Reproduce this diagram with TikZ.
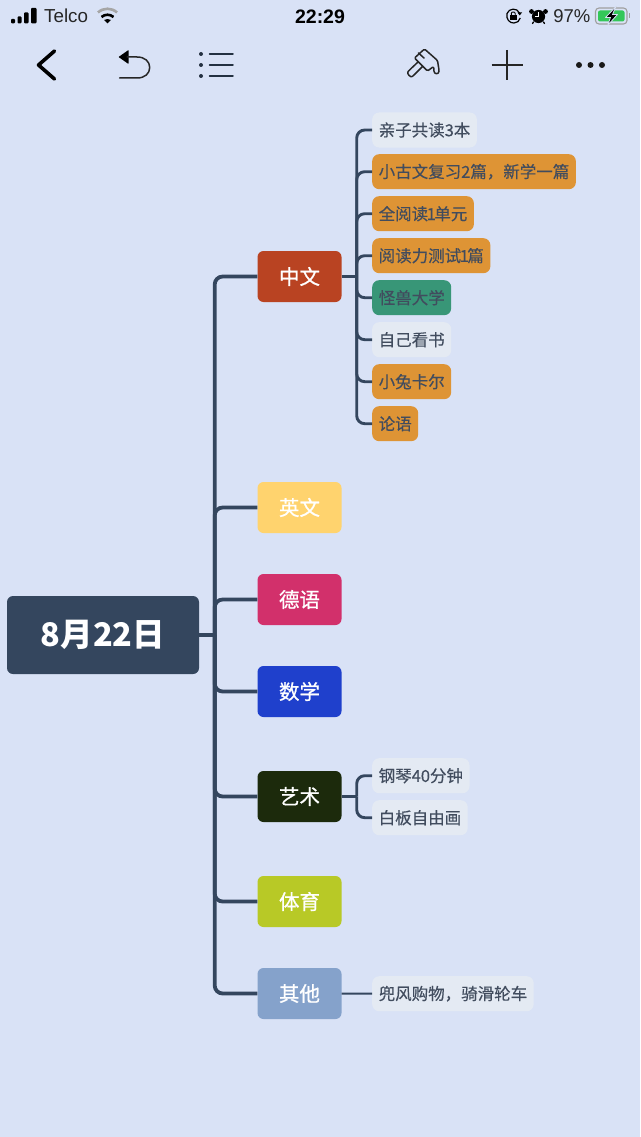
\documentclass[tikz,border=0pt]{standalone}
\usepackage{fontspec}
\setmainfont{Liberation Sans}
\newfontfamily\cjk{Noto Sans CJK SC}
\newfontfamily\cjkleaf[FakeBold=0.3]{Noto Sans CJK SC}
\newfontfamily\cjksubject[FakeBold=0.8]{Noto Sans CJK SC}
\newcommand{\slimone}{\kern-1.5pt 1\kern-1.5pt }
\definecolor{pagebg}{HTML}{D9E2F6}
\definecolor{linkcol}{HTML}{34465E}
\definecolor{leafink}{HTML}{414C5E}
\definecolor{leafplain}{HTML}{E4EAF3}
\definecolor{leaforange}{HTML}{DE9435}
\definecolor{leafgreen}{HTML}{389677}
\definecolor{batterygreen}{HTML}{34C759}
\definecolor{chinesecol}{HTML}{B94322}
\definecolor{englishcol}{HTML}{FFD36E}
\definecolor{germancol}{HTML}{D2306B}
\definecolor{mathscol}{HTML}{1F40CC}
\definecolor{artscol}{HTML}{1C2A0C}
\definecolor{sportscol}{HTML}{B8C926}
\definecolor{otherscol}{HTML}{85A2CB}
\tikzset{%
  root topic/.style={
    rectangle,
    rounded corners=6,
    fill=linkcol,
    text=white,
    minimum width=192,
    minimum height=78,
    font=\cjk\fontsize{32.5}{32.5}\selectfont\bfseries
  },
  subject/.style={
    rectangle,
    rounded corners=6,
    text=white,
    minimum width=84,
    minimum height=51,
    font=\cjksubject\fontsize{20.5}{20.5}\selectfont
  },
  leaf/.style={
    rectangle,
    rounded corners=7,
    anchor=west,
    fill=leafplain,
    text=leafink,
    inner xsep=6.5,
    inner ysep=0,
    minimum height=35,
    font=\cjkleaf\fontsize{16.5}{16.5}\selectfont
  },
  leaf orange/.style={leaf, fill=leaforange},
  leaf green/.style={leaf, fill=leafgreen},
  main link/.style={draw=linkcol, line width=3.8, rounded corners=8},
  sub link/.style={draw=linkcol, line width=2.9, rounded corners=8},
  icon/.style={line width=1.5, line cap=round, line join=round},
}

\begin{document}
\begin{tikzpicture}[x=1pt, y=-1pt]
\useasboundingbox (0,0) rectangle (640,1137);
\fill[pagebg] (0,0) rectangle (640,1137);

% status bar
\fill[black, rounded corners=1] (11,19) rectangle (15,23.5);
\fill[black, rounded corners=1] (17.5,16.5) rectangle (21.5,23.5);
\fill[black, rounded corners=1] (24,12.5) rectangle (28.5,23.5);
\fill[black, rounded corners=1] (31,8) rectangle (36.5,23.5);
\node[anchor=base west, inner sep=0, font=\fontsize{18.8}{18.8}\selectfont, text=black!85] (telco) at (44,23) {Telco};
\draw[gray!70, line width=2.6] (98,12.5) .. controls (103.5,7.5) and (111.5,7.5) .. (117,12.5);
\draw[black, line width=2.6] (101.5,17) .. controls (105,14) and (110,14) .. (113.5,17);
\fill[black] (107.5,23.5) -- (104,20) .. controls (106,18.7) and (109,18.7) .. (111,20) -- cycle;
\node[inner sep=0, font=\fontsize{19.5}{19.5}\selectfont\bfseries] (clock) at (320,16.5) {22:29};
\draw[black, line width=1.2] (519.5,13) .. controls (517,7.5) and (509,8) .. (507,13.5) .. controls (505.5,19) and (510,23.5) .. (514,23) .. controls (517,23) and (519.5,21) .. (520.3,18);
\fill[black] (517.5,12.5) -- (522,12.5) -- (519.7,15.5) -- cycle;
\fill[black] (510,15) rectangle (516.5,20);
\draw[black, line width=0.9] (511.3,15) -- (511.3,13.5) .. controls (511.3,11.5) and (515.2,11.5) .. (515.2,13.5) -- (515.2,15);
\fill[black] (538.5,16.5) circle (6.6);
\fill[black] (531.5,11.5) circle (2.4);
\fill[black] (545.5,11.5) circle (2.4);
\draw[black, line width=1.3, line cap=round] (533.5,22) -- (532.5,23.5);
\draw[black, line width=1.3, line cap=round] (543.5,22) -- (544.5,23.5);
\draw[white, line width=1] (538.7,12) -- (538.7,17) -- (535,17);
\node[anchor=base east, inner sep=0, font=\fontsize{18.5}{18.5}\selectfont, text=black!85] (battery level) at (590.5,23) {97\%};
\draw[gray!75, line width=1.1, rounded corners=3.5] (595.5,8) rectangle (627,24);
\fill[gray!75] (628.5,13.5) rectangle (630,18.5);
\fill[batterygreen, rounded corners=2] (598,10.5) rectangle (624.5,21.5);
\draw[pagebg, line width=0.8, fill=black, line join=round] (616,6.5) -- (605.5,17.5) -- (610.5,17.5) -- (607.5,25.5) -- (617.5,14.5) -- (612.5,14.5) -- cycle;

% tool bar
\draw[black, line width=3.6, line cap=round, line join=round] (54.5,51) -- (38.5,65) -- (54.5,79);
\fill[black, rounded corners=0.5] (118.5,57) -- (128.5,50) -- (128.5,64) -- cycle;
\draw[icon, draw=black!85] (127,57) -- (137,57) .. controls (145,57) and (149.7,61.5) .. (149.7,67.5) .. controls (149.7,73.5) and (145,78) .. (137,78) -- (119.5,78);
\foreach \rowy in {54,65,76} {
  \fill[linkcol!70!black] (201,\rowy) circle (2);
  \draw[icon, draw=linkcol!70!black] (209.5,\rowy) -- (233,\rowy);
}
\draw[icon, draw=black!85, rounded corners=1.2] (424.5,49) -- (437.5,60.5) -- (439,70) .. controls (439,74.5) and (434,74.5) .. (434,70) -- (433.5,66.5) -- (427.5,71) -- (414.5,58) -- cycle;
\draw[icon, draw=black!85, rounded corners=1.5] (418,62) -- (409,70.5) .. controls (406.5,73.5) and (410.5,78) .. (413.5,75.5) -- (422.5,66.5);
\draw[icon, draw=black!85] (418.5,53) -- (424,58);
\draw[draw=black!85, line width=1.6] (491.5,65) -- (522.5,65);
\draw[draw=black!85, line width=1.6] (506.8,50) -- (506.8,80);
\foreach \dotx in {579,590.5,602} {
  \fill[black!90] (\dotx,65) circle (3);
}

% map nodes
\node[root topic] (today) at (103,635) {\raisebox{-2.5pt}{8月22日}};

\node[subject, fill=chinesecol] (chinese) at (299.5,276.5) {中文};
\node[subject, fill=englishcol] (english) at (299.5,507.5) {英文};
\node[subject, fill=germancol] (german) at (299.5,599.5) {德语};
\node[subject, fill=mathscol] (maths) at (299.5,691.5) {数学};
\node[subject, fill=artscol] (arts) at (299.5,796.5) {艺术};
\node[subject, fill=sportscol] (sports) at (299.5,901.5) {体育};
\node[subject, fill=otherscol] (others) at (299.5,993.5) {其他};

\node[leaf] (reading) at (372,130) {亲子共读3本};
\node[leaf orange] (classics) at (372,171.7) {小古文复习2篇，新学一篇};
\node[leaf orange] (unit) at (372,213.7) {全阅读\slimone 单元};
\node[leaf orange] (test) at (372,255.7) {阅读力测试\slimone 篇};
\node[leaf green] (monster) at (372,297.7) {怪兽大学};
\node[leaf] (selfread) at (372,339.7) {自己看书};
\node[leaf orange] (rabbit) at (372,381.7) {小兔卡尔};
\node[leaf orange] (analects) at (372,423.7) {论语};
\node[leaf] (piano) at (372,775.7) {钢琴40分钟};
\node[leaf] (board) at (372,817.7) {白板自由画};
\node[leaf] (outing) at (372,993.7) {兜风购物，骑滑轮车};

% connectors
\coordinate (trunk) at (214.7,635);
\coordinate (chinese fork) at (356.7,276.5);
\coordinate (arts fork) at (356.7,796.5);

\draw[main link] (today.east) -- (trunk);
\foreach \name in {chinese,english,german,maths,arts,sports,others} {
  \draw[main link] (trunk) |- (\name.west);
}

\draw[sub link] (chinese.east) -- (chinese fork);
\foreach \name in {reading,classics,unit,test,monster,selfread,rabbit,analects} {
  \draw[sub link] (chinese fork) |- (\name.west);
}
\draw[sub link] (arts.east) -- (arts fork);
\foreach \name in {piano,board} {
  \draw[sub link] (arts fork) |- (\name.west);
}
\draw[sub link, line width=2] (others.east) -- (outing.west);
\end{tikzpicture}
\end{document}
